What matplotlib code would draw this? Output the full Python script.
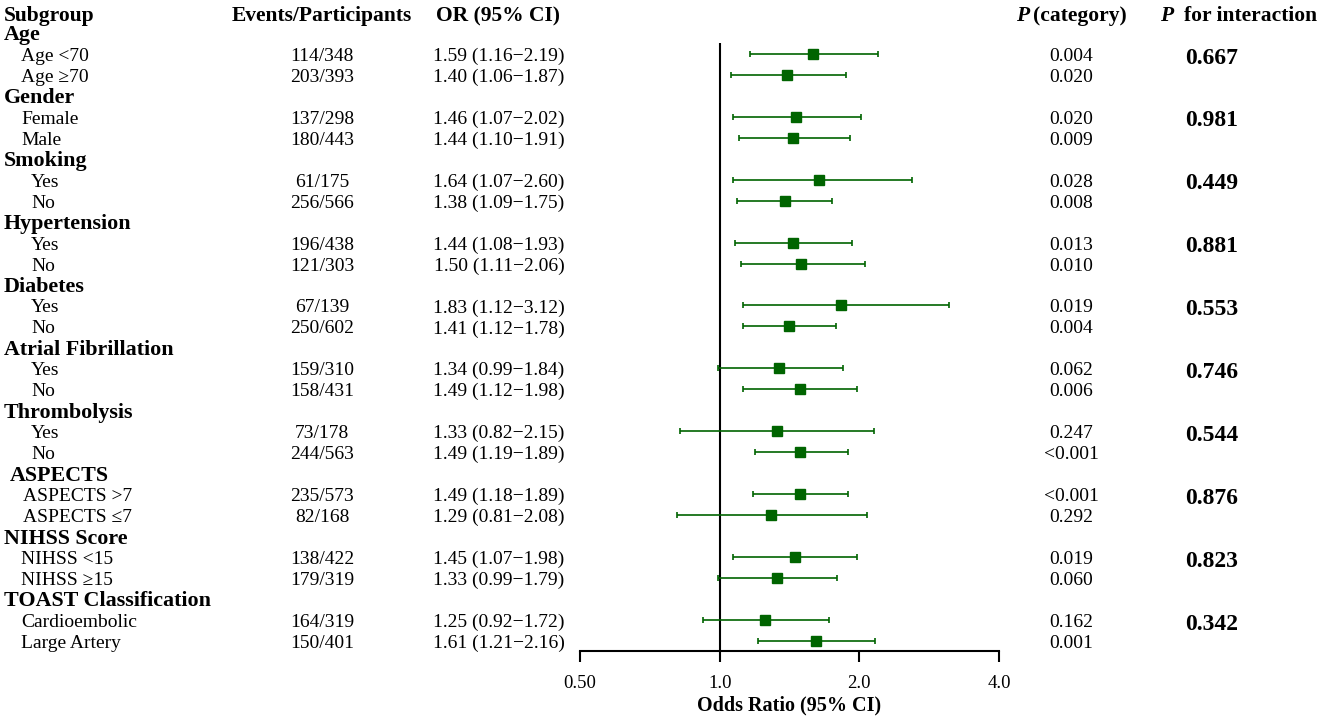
import numpy as np
import matplotlib
matplotlib.use("Agg")
import matplotlib.pyplot as plt

plt.rcParams['font.family'] = ['Liberation Serif', 'DejaVu Serif']

# subgroup names
group_names = ["Age", "Gender", "Smoking", "Hypertension", "Diabetes",
               "Atrial Fibrillation", "Thrombolysis", "ASPECTS",
               "NIHSS Score", "TOAST Classification"]
sub_names = [["Age <70", "Age \u226570"], ["Female", "Male"], ["Yes", "No"],
             ["Yes", "No"], ["Yes", "No"], ["Yes", "No"], ["Yes", "No"],
             ["ASPECTS >7", "ASPECTS \u22647"], ["NIHSS <15", "NIHSS \u226515"],
             ["Cardioembolic", "Large Artery"]]

# events / participants
events = ["114/348", "203/393", "137/298", "180/443", "61/175", "256/566",
          "196/438", "121/303", "67/139", "250/602", "159/310", "158/431",
          "73/178", "244/563", "235/573", "82/168", "138/422", "179/319",
          "164/319", "150/401"]

# odds ratios and CI
or_est = [1.59, 1.40, 1.46, 1.44, 1.64, 1.38, 1.44, 1.50, 1.83, 1.41,
          1.34, 1.49, 1.33, 1.49, 1.49, 1.29, 1.45, 1.33, 1.25, 1.61]
or_lo = [1.16, 1.06, 1.07, 1.10, 1.07, 1.09, 1.08, 1.11, 1.12, 1.12,
         0.99, 1.12, 0.82, 1.19, 1.18, 0.81, 1.07, 0.99, 0.92, 1.21]
or_hi = [2.19, 1.87, 2.02, 1.91, 2.60, 1.75, 1.93, 2.06, 3.12, 1.78,
         1.84, 1.98, 2.15, 1.89, 1.89, 2.08, 1.98, 1.79, 1.72, 2.16]

p_cat = ["0.004", "0.020", "0.020", "0.009", "0.028", "0.008", "0.013",
         "0.010", "0.019", "0.004", "0.062", "0.006", "0.247", "<0.001",
         "<0.001", "0.292", "0.019", "0.060", "0.162", "0.001"]
p_int = ["0.667", "0.981", "0.449", "0.881", "0.553", "0.746", "0.544",
         "0.876", "0.823", "0.342"]

xticks = [0.5, 1.0, 2.0, 4.0]
xtick_labels = ["0.50", "1.0", "2.0", "4.0"]

W, H = 1325, 721
row_h = 20.96
row0 = 12.0
green = '#006400'
dy = 0.12  # text sits a little lower than the marker row

def row_of(px):
    return (px - row0) / row_h

fig = plt.figure(figsize=(W / 100, H / 100), dpi=100)

# text layer in pixel x / row y
tx = fig.add_axes([0, 0, 1, 1])
tx.set_xlim(0, W)
tx.set_ylim(row_of(H), row_of(0))
tx.axis('off')

# forest axes
ax_left, ax_right, ax_bot = 580, 999, 651
ax = fig.add_axes([ax_left / W, (H - ax_bot) / H, (ax_right - ax_left) / W, ax_bot / H])
ax.set_xscale('log', base=2)
ax.set_xlim(0.5, 4.0)
ax.set_ylim(row_of(ax_bot), row_of(0))
ax.patch.set_alpha(0)
for s in ['top', 'right', 'left']:
    ax.spines[s].set_visible(False)
ax.spines['bottom'].set_linewidth(1.5)
ax.set_yticks([])
ax.set_xticks(xticks)
ax.set_xticklabels(xtick_labels)
ax.xaxis.set_minor_locator(matplotlib.ticker.NullLocator())
ax.tick_params(axis='x', direction='out', length=8, width=1.5, labelsize=13.5, pad=9)
ax.set_xlabel("Odds Ratio (95% CI)", fontsize=14.5, fontweight='bold', labelpad=3)

# header row
hdr_fs = 15.5
hy = 0.2
tx.text(4, hy, "Subgroup", fontsize=hdr_fs, fontweight='bold', ha='left', va='center')
tx.text(322, hy, "Events/Participants", fontsize=hdr_fs, fontweight='bold', ha='center', va='center')
tx.text(498, hy, "OR (95% CI)", fontsize=hdr_fs, fontweight='bold', ha='center', va='center')
tx.text(1016, hy, "P", fontsize=hdr_fs, fontweight='bold', style='italic', ha='left', va='center')
tx.text(1033, hy, "(category)", fontsize=hdr_fs, fontweight='bold', ha='left', va='center')
tx.text(1160, hy, "P", fontsize=hdr_fs, fontweight='bold', style='italic', ha='left', va='center')
tx.text(1184, hy, "for interaction", fontsize=hdr_fs, fontweight='bold', ha='left', va='center')

rows = []
k = 0
for g, name in enumerate(group_names):
    gr = 1 + 3 * g
    gx = 10 if name == "ASPECTS" else 4
    tx.text(gx, gr + dy, name, fontsize=15.8, fontweight='bold', ha='left', va='center')
    for j, sub in enumerate(sub_names[g]):
        r = gr + 1 + j
        rows.append(r)
        if sub in ("Yes", "No"):
            sx = 31
        elif name == "ASPECTS":
            sx = 23
        else:
            sx = 21
        tx.text(sx, r + dy, sub, fontsize=14, ha='left', va='center')
        tx.text(322, r + dy, events[k], fontsize=14, ha='center', va='center')
        txt = "%.2f (%.2f\u2212%.2f)" % (or_est[k], or_lo[k], or_hi[k])
        tx.text(499, r + dy, txt, fontsize=14, ha='center', va='center')
        tx.text(1071, r + dy, p_cat[k], fontsize=14, ha='center', va='center')
        k += 1
    tx.text(1212, gr + 1.2, p_int[g], fontsize=17, fontweight='bold', ha='center', va='center')

rows = np.array(rows)
est = np.array(or_est)
lo = np.array(or_lo)
hi = np.array(or_hi)

ax.vlines(1.0, row_of(43), row_of(ax_bot), color='black', linewidth=1.5)
ax.errorbar(est, rows, xerr=[est - lo, hi - est], fmt='s', color=green,
            ms=6.5, elinewidth=1.2, capsize=2.5, capthick=1.2)

fig.savefig("out.png", dpi=100)
